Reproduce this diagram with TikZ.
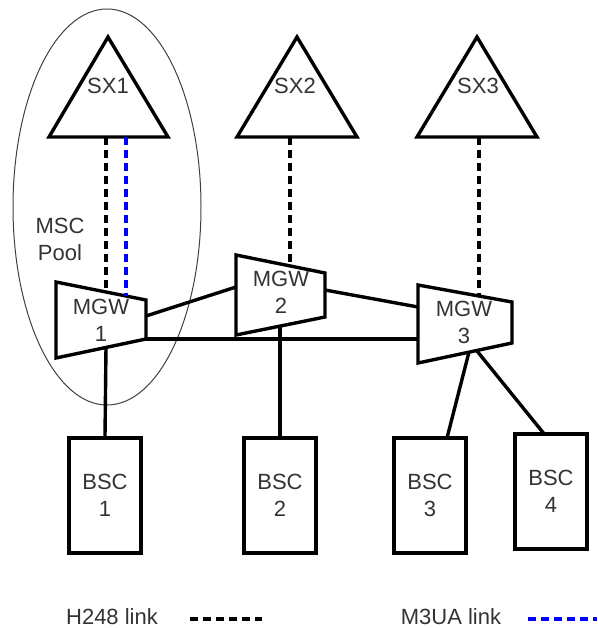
\documentclass[tikz,border=0pt]{standalone}
\usepackage{fontspec}
\setmainfont{Liberation Sans}
\begin{document}
\begin{tikzpicture}[x=1pt,y=-1pt]
\tikzset{
    gsmText/.style={font=\fontsize{22}{27}\selectfont,text=black!80,align=center,inner sep=0pt},
    gsmBsc/.style={rectangle,draw=black,line width=3.4pt,minimum width=72pt,minimum height=115pt,gsmText},
    gsmLine/.style={draw=black,line width=3.4pt,line join=miter},
    gsmH248/.style={draw=black,line width=3.4pt,dash pattern=on 8pt off 5pt},
    gsmM3ua/.style={draw=blue,line width=3.4pt,dash pattern=on 8pt off 5pt},
}
\useasboundingbox (0,0) rectangle (597,628);

% MSC pool
\draw[black!75,line width=1pt] (107,207) ellipse [x radius=94pt,y radius=198pt];
\node[gsmText] (pool) at (60,239) {MSC\\Pool};

% soft switches
\draw[gsmLine] (108,37) -- (168,137) -- (49,137) -- cycle;
\draw[gsmLine] (297,37) -- (357,137) -- (237,137) -- cycle;
\draw[gsmLine] (477,37) -- (537,137) -- (417,137) -- cycle;
\node[gsmText] (sx1) at (108,86) {SX1};
\node[gsmText] (sx2) at (295,86) {SX2};
\node[gsmText] (sx3) at (478,86) {SX3};
\coordinate (sx1h) at (106,137);
\coordinate (sx1m) at (126,137);
\coordinate (sx2h) at (290,137);
\coordinate (sx3h) at (479,137);

% media gateways
\draw[gsmLine] (56,282) -- (146,300) -- (146,339) -- (56,358) -- cycle;
\draw[gsmLine] (236,255) -- (325,273) -- (325,317) -- (236,335) -- cycle;
\draw[gsmLine] (418,285) -- (512,302) -- (512,343) -- (418,363) -- cycle;
\node[gsmText] (mgw1) at (101,320) {MGW\\1};
\node[gsmText] (mgw2) at (281,292) {MGW\\2};
\node[gsmText] (mgw3) at (464,322) {MGW\\3};
\coordinate (mgw1h) at (106,292);
\coordinate (mgw1m) at (126,296);
\coordinate (mgw1e) at (146,316);
\coordinate (mgw1c) at (146,339);
\coordinate (mgw1s) at (106,347);
\coordinate (mgw2h) at (290,266);
\coordinate (mgw2w) at (236,287);
\coordinate (mgw2e) at (325,290);
\coordinate (mgw2s) at (280,326);
\coordinate (mgw3h) at (479,296);
\coordinate (mgw3w) at (418,307);
\coordinate (mgw3c) at (418,339);
\coordinate (mgw3s) at (469,352);
\coordinate (mgw3t) at (477,351);

% base station controllers
\node[gsmBsc] (bsc1) at (105,495.5) {BSC\\1};
\node[gsmBsc] (bsc2) at (280,495.5) {BSC\\2};
\node[gsmBsc] (bsc3) at (430,495.5) {BSC\\3};
\node[gsmBsc] (bsc4) at (551,491.5) {BSC\\4};
\coordinate (bsc3n) at (447,438);
\coordinate (bsc4n) at (545,435);

% links
\draw[gsmH248] (sx1h) -- (mgw1h);
\draw[gsmM3ua] (sx1m) -- (mgw1m);
\draw[gsmH248] (sx2h) -- (mgw2h);
\draw[gsmH248] (sx3h) -- (mgw3h);
\draw[gsmLine] (mgw1e) -- (mgw2w);
\draw[gsmLine] (mgw2e) -- (mgw3w);
\draw[gsmLine] (mgw1c) -- (mgw3c);
\draw[gsmLine] (mgw1s) -- (bsc1.north);
\draw[gsmLine] (mgw2s) -- (bsc2.north);
\draw[gsmLine] (mgw3s) -- (bsc3n);
\draw[gsmLine] (mgw3t) -- (bsc4n);

% legend
\node[gsmText] (h248) at (112,617) {H248 link};
\node[gsmText] (m3ua) at (451,617) {M3UA link};
\coordinate (h248a) at (190,619);
\coordinate (h248b) at (262,619);
\coordinate (m3uaa) at (528,619);
\coordinate (m3uab) at (597,619);
\draw[gsmH248] (h248a) -- (h248b);
\draw[gsmM3ua] (m3uaa) -- (m3uab);
\end{tikzpicture}
\end{document}
